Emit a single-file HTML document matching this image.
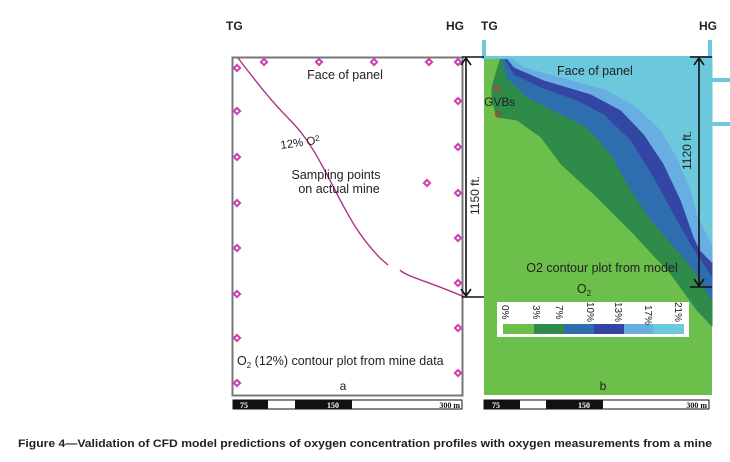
<!DOCTYPE html>
<html><head><meta charset="utf-8"><style>
html,body{margin:0;padding:0;background:#fff;}
svg{display:block;font-family:"Liberation Sans",Arial,sans-serif;}
</style></head><body>
<svg width="730" height="462" viewBox="0 0 730 462" xmlns="http://www.w3.org/2000/svg">
<defs>
<g id="pt"><rect x="-3.2" y="-3.2" width="6.4" height="6.4" transform="rotate(45)" fill="#d040b0"/><circle r="1.3" fill="#fff"/></g>
</defs>
<rect width="730" height="462" fill="#fff"/>
<text x="226" y="30" font-size="12" font-weight="bold" fill="#222">TG</text>
<text x="446" y="30" font-size="12" font-weight="bold" fill="#222">HG</text>
<text x="481" y="30" font-size="12" font-weight="bold" fill="#222">TG</text>
<text x="699" y="30" font-size="12" font-weight="bold" fill="#222">HG</text>

<!-- left panel -->
<rect x="232.5" y="57.5" width="230" height="338" fill="#fff" stroke="#777" stroke-width="2"/>
<path d="M238,58 C255,80 270,100 290,120 C310,140 322,165 335,190 C348,215 358,235 380,258 L388,265" fill="none" stroke="#b0308a" stroke-width="1.4"/>
<path d="M400,270 C405,276 430,282 462,296" fill="none" stroke="#b0308a" stroke-width="1.4"/>
<use href="#pt" x="237" y="68"/><use href="#pt" x="264" y="62"/><use href="#pt" x="319" y="62"/><use href="#pt" x="374" y="62"/><use href="#pt" x="429" y="62"/><use href="#pt" x="458" y="62"/>
<use href="#pt" x="237" y="111"/><use href="#pt" x="237" y="157"/><use href="#pt" x="237" y="203"/><use href="#pt" x="237" y="248"/><use href="#pt" x="237" y="294"/><use href="#pt" x="237" y="338"/><use href="#pt" x="237" y="383"/>
<use href="#pt" x="458" y="101"/><use href="#pt" x="458" y="147"/><use href="#pt" x="458" y="193"/><use href="#pt" x="458" y="238"/><use href="#pt" x="458" y="283"/><use href="#pt" x="458" y="328"/><use href="#pt" x="458" y="373"/>
<use href="#pt" x="427" y="183"/>
<text x="345" y="79" font-size="12.5" text-anchor="middle" fill="#222">Face of panel</text>
<text x="281" y="149" font-size="11.5" fill="#222" transform="rotate(-8 281 149)">12% O<tspan font-size="8" dy="-3">2</tspan></text>
<text x="336" y="179" font-size="12.5" text-anchor="middle" fill="#222">Sampling points</text>
<text x="339" y="193" font-size="12.5" text-anchor="middle" fill="#222">on actual mine</text>
<text x="237" y="365" font-size="12.5" fill="#222">O<tspan font-size="8" dy="3">2</tspan><tspan dy="-3"> (12%) contour plot from mine data</tspan></text>
<text x="343" y="390" font-size="12" text-anchor="middle" fill="#222">a</text>

<!-- right panel -->
<rect x="484" y="57" width="228" height="338" fill="#6cbf4a"/>
<g stroke-linejoin="round" stroke-width="1">
<path d="M501,57 L712,57 L712,326 L697,310 L671,274 L634,234 L594,194 L561,164 L541,137 L517,120 L497,117 L492,100 L492,87 Z" fill="#2e8b4a" stroke="#2e8b4a"/>
<path d="M502,57 L712,57 L712,300 L694,270 L677,250 L651,220 L631,190 L611,154 L587,127 L561,114 L527,97 L507,77 Z" fill="#2f6eae" stroke="#2f6eae"/>
<path d="M504,57 L712,57 L712,276 L704,264 L691,244 L674,214 L654,177 L631,140 L604,114 L577,100 L541,87 L514,74 Z" fill="#3446a4" stroke="#3446a4"/>
<path d="M506,57 L712,57 L712,262 L700,250 L694,237 L681,200 L664,164 L644,134 L621,110 L591,94 L544,80 L514,67 Z" fill="#68aee2" stroke="#68aee2"/>
<path d="M511,57 L712,57 L712,244 L697,214 L691,190 L677,157 L661,130 L637,107 L607,90 L561,77 L524,67 Z" fill="#6cc8dc" stroke="#6cc8dc"/>
</g>
<rect x="484" y="82" width="8" height="5" fill="#6cbf4a"/>
<rect x="482" y="40" width="4" height="18" fill="#6cc8dc"/>
<rect x="708" y="40" width="4" height="18" fill="#6cc8dc"/>
<rect x="482" y="56" width="230" height="3" fill="#6cc8dc"/>
<rect x="712" y="78" width="18" height="4" fill="#6cc8dc"/>
<rect x="712" y="122" width="18" height="4" fill="#6cc8dc"/>
<circle cx="497" cy="89" r="2.5" fill="none" stroke="#d03030" stroke-width="1.2"/>
<circle cx="498" cy="114" r="2.5" fill="none" stroke="#d03030" stroke-width="1.2"/>
<text x="484" y="106" font-size="12" fill="#222">GVBs</text>
<text x="557" y="75" font-size="12.5" fill="#222">Face of panel</text>
<text x="602" y="272" font-size="12.5" text-anchor="middle" fill="#222">O2 contour plot from model</text>
<text x="584" y="293" font-size="12.5" text-anchor="middle" fill="#222">O<tspan font-size="8" dy="3">2</tspan></text>
<rect x="497" y="302" width="192" height="35" fill="#fff"/>
<rect x="503" y="324" width="31" height="10" fill="#6cbf4a"/>
<rect x="534" y="324" width="30" height="10" fill="#2e8b4a"/>
<rect x="564" y="324" width="30" height="10" fill="#2f6eae"/>
<rect x="594" y="324" width="30" height="10" fill="#3446a4"/>
<rect x="624" y="324" width="29" height="10" fill="#68aee2"/>
<rect x="653" y="324" width="31" height="10" fill="#6cc8dc"/>
<g font-size="10" fill="#222">
<text transform="translate(502,305) rotate(90)">0%</text>
<text transform="translate(533,305) rotate(90)">3%</text>
<text transform="translate(556,305) rotate(90)">7%</text>
<text transform="translate(587,302) rotate(90)">10%</text>
<text transform="translate(615,302) rotate(90)">13%</text>
<text transform="translate(645,305) rotate(90)">17%</text>
<text transform="translate(675,302) rotate(90)">21%</text>
</g>
<text x="603" y="390" font-size="12" text-anchor="middle" fill="#222">b</text>

<g stroke="#111" stroke-width="1.6" fill="none">
<line x1="466" y1="58" x2="466" y2="296"/>
<line x1="462" y1="57" x2="484" y2="57"/>
<line x1="462" y1="297" x2="484" y2="297"/>
<polyline points="461,65 466,58 471,65"/>
<polyline points="461,289 466,296 471,289"/>
<line x1="699" y1="58" x2="699" y2="286"/>
<line x1="690" y1="57" x2="712" y2="57"/>
<line x1="690" y1="287" x2="712" y2="287"/>
<polyline points="694,65 699,58 704,65"/>
<polyline points="694,279 699,286 704,279"/>
</g>
<text transform="translate(479,215) rotate(-90)" font-size="12" fill="#222">1150 ft.</text>
<text transform="translate(691,170) rotate(-90)" font-size="12" fill="#222">1120 ft.</text>

<g font-family="Liberation Serif,serif" font-size="8" font-weight="bold">
<rect x="233" y="400" width="229" height="9" fill="#fff" stroke="#111" stroke-width="1"/>
<rect x="233" y="400" width="35" height="9" fill="#111"/>
<rect x="295" y="400" width="57" height="9" fill="#111"/>
<text x="240" y="408" fill="#fff">75</text>
<text x="327" y="408" fill="#fff">150</text>
<text x="460" y="408" fill="#111" text-anchor="end">300 m</text>
<rect x="484" y="400" width="225" height="9" fill="#fff" stroke="#111" stroke-width="1"/>
<rect x="484" y="400" width="36" height="9" fill="#111"/>
<rect x="546" y="400" width="57" height="9" fill="#111"/>
<text x="492" y="408" fill="#fff">75</text>
<text x="578" y="408" fill="#fff">150</text>
<text x="707" y="408" fill="#111" text-anchor="end">300 m</text>
</g>

<text x="18" y="447" font-size="11" font-weight="bold" fill="#222" textLength="694" lengthAdjust="spacingAndGlyphs">Figure 4—Validation of CFD model predictions of oxygen concentration profiles with oxygen measurements from a mine</text>
</svg>
</body></html>
